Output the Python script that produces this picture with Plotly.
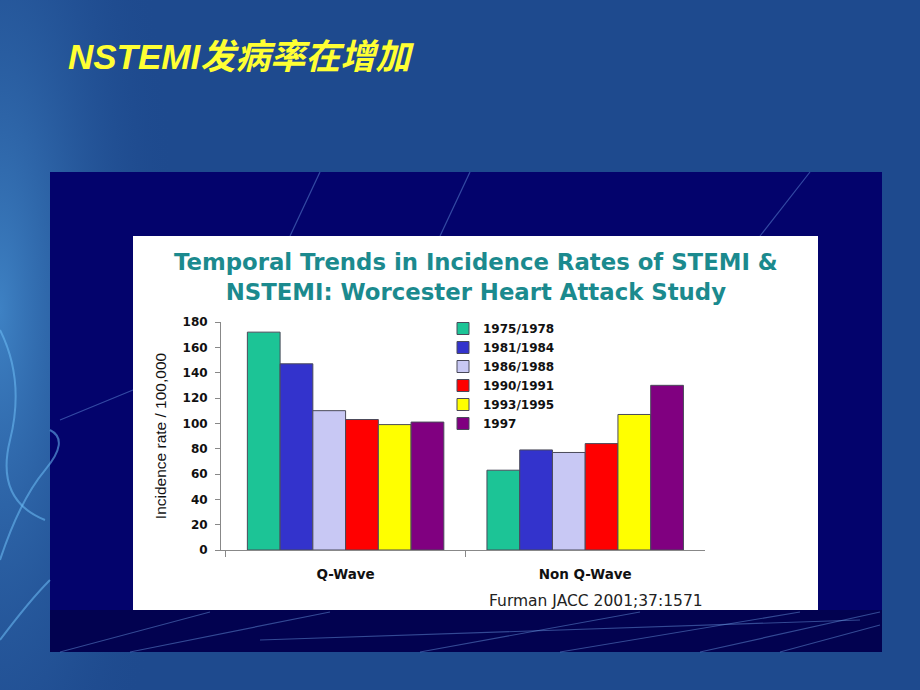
import base64
import plotly.graph_objects as go

categories = ["Q-Wave", "Non Q-Wave"]
periods = ["1975/1978", "1981/1984", "1986/1988", "1990/1991", "1993/1995", "1997"]
rates = {
    "1975/1978": [172, 63],
    "1981/1984": [147, 79],
    "1986/1988": [110, 77],
    "1990/1991": [103, 84],
    "1993/1995": [99, 107],
    "1997": [101, 130],
}
colors = ["#1cc496", "#3333cc", "#c8c8f4", "#ff0000", "#ffff00", "#800080"]
y_ticks = [0, 20, 40, 60, 80, 100, 120, 140, 160, 180]

W, H = 920, 690
BOLD = "DejaVu Sans"


def px(x):
    return x / W


def py(y):
    return 1 - y / H


fig = go.Figure()
for name, col in zip(periods, colors):
    fig.add_trace(go.Bar(
        x=categories, y=rates[name], name=name,
        marker=dict(color=col, line=dict(color="#4a4a5a", width=1)),
    ))

# soft light glow on the left edge of the slide (decoration)
glow_svg = (
    '<svg xmlns="http://www.w3.org/2000/svg" width="200" height="690">'
    '<defs><radialGradient id="g" cx="0" cy="0.45" r="0.9" fx="0" fy="0.45">'
    '<stop offset="0" stop-color="#4f9fe0" stop-opacity="0.65"/>'
    '<stop offset="1" stop-color="#1e4a8e" stop-opacity="0"/>'
    '</radialGradient></defs>'
    '<rect width="200" height="690" fill="url(#g)"/></svg>'
)
glow_uri = "data:image/svg+xml;base64," + base64.b64encode(glow_svg.encode()).decode()

shapes = [
    # inner navy panel
    dict(type="rect", xref="paper", yref="paper", x0=px(50), x1=px(882), y0=py(652), y1=py(172),
         fillcolor="#03036c", line=dict(width=0), layer="below"),
    # darker bottom strip
    dict(type="rect", xref="paper", yref="paper", x0=px(50), x1=px(882), y0=py(652), y1=py(610),
         fillcolor="#020250", line=dict(width=0), layer="below"),
]
# decorative streaks
streaks = [
    (60, 652, 210, 612), (130, 652, 330, 612), (420, 652, 640, 612), (700, 652, 880, 612),
    (260, 640, 860, 620), (780, 652, 880, 625), (560, 652, 800, 612),
    (760, 236, 810, 172), (440, 236, 470, 172), (60, 420, 133, 390), (290, 236, 320, 172),
]
for x0, y0, x1, y1 in streaks:
    shapes.append(dict(type="line", xref="paper", yref="paper", x0=px(x0), y0=py(y0), x1=px(x1), y1=py(y1),
                       line=dict(color="rgba(110,160,230,0.45)", width=1.2), layer="below"))
# left decorative curves on outer background
curves = [
    "M 0,560 Q 20,500 45,470 T 50,430",
    "M 0,330 Q 25,380 10,440 T 45,520",
    "M 0,640 Q 30,600 50,580",
]
for c in curves:
    shapes.append(dict(type="path", xref="paper", yref="paper",
                       path=" ".join(
                           (f"{px(float(p.split(',')[0])):.4f},{py(float(p.split(',')[1])):.4f}" if "," in p else p)
                           for p in c.split()),
                       line=dict(color="rgba(110,190,245,0.55)", width=2), layer="below"))
shapes.append(
    dict(type="rect", xref="paper", yref="paper", x0=px(133), x1=px(818), y0=py(610), y1=py(236),
         fillcolor="#ffffff", line=dict(width=0), layer="below"))

annotations = [
    dict(text="<b><i>NSTEMI发病率在增加</i></b>", xref="paper", yref="paper", x=px(66), y=py(57),
         xanchor="left", yanchor="middle", showarrow=False,
         font=dict(family="Liberation Sans, Arial, Noto Sans CJK SC", size=35, color="#ffff33")),
    dict(text="<b>Temporal Trends in Incidence Rates of STEMI &<br>NSTEMI: Worcester Heart Attack Study</b>",
         xref="paper", yref="paper", x=px(476), y=py(277), xanchor="center", yanchor="middle",
         showarrow=False, align="center",
         font=dict(family=BOLD, size=22.8, color="#1b8a8e")),
    dict(text="Furman JACC 2001;37:1571", xref="paper", yref="paper", x=px(596), y=py(601),
         xanchor="center", yanchor="middle", showarrow=False,
         font=dict(family=BOLD, size=15.5, color="#222222")),
]

fig.update_layout(
    width=W, height=H,
    margin=dict(l=0, r=0, t=0, b=0, pad=0, autoexpand=False),
    paper_bgcolor="#1e4a8e",
    plot_bgcolor="rgba(0,0,0,0)",
    barmode="group", bargap=0.18, bargroupgap=0,
    shapes=shapes, annotations=annotations,
    images=[dict(source=glow_uri, xref="paper", yref="paper", x=0, y=1, sizex=px(200), sizey=1,
                 xanchor="left", yanchor="top", sizing="stretch", layer="below")],
    showlegend=True,
    legend=dict(x=px(443), y=py(314), xanchor="left", yanchor="top",
                bgcolor="rgba(0,0,0,0)", tracegroupgap=0,
                font=dict(family=BOLD, size=12, color="#111111", weight="bold")),
    xaxis=dict(domain=[px(221), px(705)], range=[-0.52, 1.5], showline=True, linecolor="#888888",
               linewidth=1, ticks="outside", tickson="boundaries", ticklen=6, tickcolor="#888888",
               showgrid=False,
               tickfont=dict(family=BOLD, size=13.5, color="#111111", weight="bold"),
               ticklabelstandoff=12),
    yaxis=dict(domain=[py(550), py(322)], range=[0, 180], tickvals=y_ticks, showline=True,
               linecolor="#888888", linewidth=1, ticks="outside", ticklen=5, tickcolor="#888888",
               showgrid=False, zeroline=False,
               tickfont=dict(family=BOLD, size=12, color="#111111", weight="bold"),
               ticklabelstandoff=5,
               title=dict(text="Incidence rate / 100,000", standoff=12,
                          font=dict(family="Liberation Sans Narrow, Arial Narrow, Liberation Sans", size=15.5,
                                    color="#111111"))),
)

fig.write_html("out.html", config={"displayModeBar": False},
               post_script="document.body.style.margin='0';document.body.style.overflow='hidden';")
